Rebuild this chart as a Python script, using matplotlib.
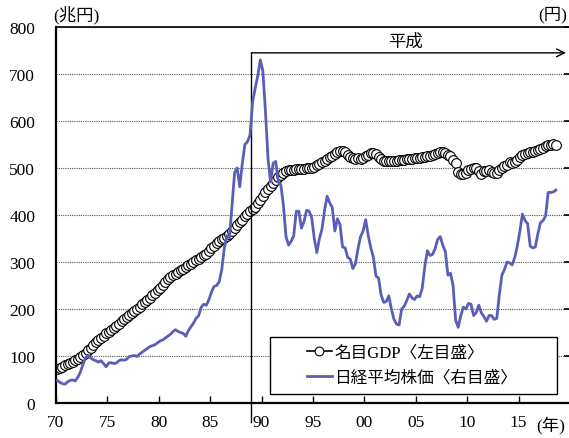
import matplotlib
matplotlib.use("Agg")
import matplotlib.pyplot as plt
from matplotlib.patches import Rectangle
import numpy as np

plt.rcParams["font.family"] = ["Liberation Serif", "Noto Sans CJK JP"]

# ── Quarterly data, 1970Q1 .. 2018Q3 ─────────────────────────────────────────
start_year = 1970

# nominal GDP, annualised (trillion yen)
gdp = [
    72, 75, 77, 80,   82, 85, 88, 91,   94, 98, 102, 107,   112, 118, 124, 129,
    133, 138, 143, 148,   151, 155, 160, 164,   169, 174, 178, 182,   187, 192, 196, 200,
    205, 210, 215, 220,   224, 229, 234, 240,   245, 251, 257, 263,   268, 272, 275, 279,
    282, 286, 290, 293,   296, 300, 304, 307,   310, 314, 318, 323,   330, 335, 340, 344,
    348, 352, 356, 360,   365, 372, 379, 385,   390, 397, 403, 409,   412, 418, 425, 432,
    440, 448, 455, 462,   468, 475, 481, 486,   490, 493, 495, 496,   496, 497, 497, 497,
    498, 499, 500, 501,   503, 506, 509, 512,   515, 519, 523, 526,   530, 534, 536, 537,
    533, 528, 524, 522,   520, 521, 520, 522,   525, 528, 531, 532,   529, 524, 519, 515,
    514, 514, 514, 515,   515, 516, 517, 518,   519, 520, 520, 521,   522, 522, 523, 524,
    525, 526, 528, 530,   532, 534, 533, 531,   528, 525, 518, 510,   492, 487, 488, 490,
    495, 498, 501, 499,   494, 488, 494, 493,   495, 492, 489, 490,   495, 500, 504, 506,
    512, 510, 513, 516,   524, 528, 530, 531,   533, 535, 536, 538,   541, 543, 546, 549,
    550, 551, 548,
]

# Nikkei 225, quarterly average (yen)
nikkei = [
    2400, 2200, 2050, 2000,   2250, 2400, 2450, 2350,   2750, 3300, 4100, 4800,
    5100, 4800, 4600, 4500,   4350, 4500, 4200, 3850,   4250, 4300, 4200, 4250,
    4500, 4600, 4550, 4650,   4950, 5000, 5050, 4950,   5200, 5400, 5600, 5800,
    6000, 6100, 6200, 6400,   6600, 6700, 6900, 7100,   7300, 7600, 7800, 7600,
    7500, 7400, 7100, 7700,   8100, 8500, 9000, 9300,   10200, 10500, 10400, 11000,
    11800, 12400, 12500, 12900,   14200, 16500, 17800, 17600,   21000, 24500, 25000, 23000,
    25500, 27500, 27800, 28500,   32000, 33500, 34800, 36500,   35300, 31000, 26000, 23500,
    25500, 25700, 23500, 23200,   21000, 17700, 16800, 17200,   17800, 20400, 20400, 18600,
    19300, 20500, 20400, 19700,   17500, 16000, 17500, 18500,   20500, 22000, 21300, 20800,
    18300, 19600, 19000, 16600,   16500, 15500, 15300, 14300,   14800, 16400, 17700, 18300,
    19500, 17800, 16500, 15500,   13500, 13300, 11500, 10700,   10800, 11400, 10000, 8900,
    8400, 8300, 10000, 10300,   10900, 11600, 11200, 11000,   11400, 11300, 12200, 14500,
    16200, 15700, 15800, 16400,   17400, 17700, 16800, 16100,   13600, 13800, 12500, 8800,
    8050, 9300, 10200, 10000,   10600, 10500, 9300, 9600,   10400, 9600, 9200, 8700,
    9300, 9300, 8900, 9000,   11500, 13600, 14200, 15000,   14900, 14700, 15500, 16700,
    18300, 20100, 19400, 19100,   16700, 16500, 16600, 18000,   19200, 19400, 19900, 22400,
    22400, 22450, 22650,
]

year_ticks = [1970, 1975, 1980, 1985, 1990, 1995, 2000, 2005, 2010, 2015]
year_labels = ["70", "75", "80", "85", "90", "95", "00", "05", "10", "15"]
heisei_start = 1989

# mid-quarter positions
t = start_year + np.arange(len(gdp)) / 4 + 0.125
t_nk = start_year + np.arange(len(nikkei)) / 4 + 0.125

blue = "#5b5eb6"

fig = plt.figure(figsize=(5.69, 4.39), dpi=100)
ax = fig.add_axes([56 / 569, 35 / 439, 514 / 569, 376 / 439])

ax.set_xlim(1970, 2020)
ax.set_ylim(0, 800)
ax.set_yticks(range(0, 801, 100))
ax.set_xticks(year_ticks)
ax.set_xticklabels(year_labels)
ax.tick_params(axis="x", direction="in", length=5, width=1, labelsize=12.5, pad=8)
ax.tick_params(axis="y", length=0, labelsize=12.5, pad=15)
ax.grid(axis="y", color="#555555", lw=0.8, ls=(0, (1, 1)))
ax.set_axisbelow(True)
for side in ("left", "bottom"):
    ax.spines[side].set_linewidth(1.6)
ax.spines["top"].set_linewidth(1.2)
ax.spines["right"].set_visible(False)

gdp_line, = ax.plot(t, gdp, color="black", lw=1.2, marker="o", ms=7,
                    mfc="white", mec="black", mew=0.8, label="名目GDP〈左目盛〉")

# Heisei marker: vertical rule and arrow
ax.plot([heisei_start, heisei_start], [-40, 745], color="black", lw=1.0,
        clip_on=False, zorder=5)
ax.annotate("", xy=(2019.6, 745), xytext=(heisei_start, 745),
            arrowprops=dict(arrowstyle="->", lw=1.0, color="black",
                            shrinkA=0, shrinkB=0, mutation_scale=14))
ax.text(2004, 768, "平成", ha="center", va="center", fontsize=12.5)

# Nikkei on the right-hand scale
ax2 = ax.twinx()
ax2.set_ylim(0, 40000)
ax2.set_yticks(range(0, 40001, 5000))
ax2.set_yticklabels([])
ax2.tick_params(axis="y", direction="in", length=4, width=1.2)
for side in ("left", "bottom", "top"):
    ax2.spines[side].set_visible(False)
nk_line, = ax2.plot(t_nk, nikkei, color=blue, lw=2.0, label="日経平均株価〈右目盛〉")

# legend box is wider than its entries, so draw the frame separately
ax2.add_patch(Rectangle((0.416, 0.024), 0.559, 0.152, transform=ax2.transAxes,
                        facecolor="white", edgecolor="black", lw=1.0, zorder=4))
leg = ax2.legend(handles=[gdp_line, nk_line], loc="center left",
                 bbox_to_anchor=(0.488, 0.10), borderaxespad=0, borderpad=0,
                 fontsize=12, frameon=False, handlelength=1.5, handletextpad=0.15,
                 labelspacing=0.55, markerscale=0.9)
leg.set_zorder(5)

fig.text(53 / 569, 1 - 15 / 439, "(兆円)", ha="left", va="center", fontsize=12.5)
fig.text(567 / 569, 1 - 15 / 439, "(円)", ha="right", va="center", fontsize=12.5)
fig.text(536 / 569, 1 - 425 / 439, "(年)", ha="left", va="center", fontsize=12.5)

fig.savefig("out.png", dpi=100)
